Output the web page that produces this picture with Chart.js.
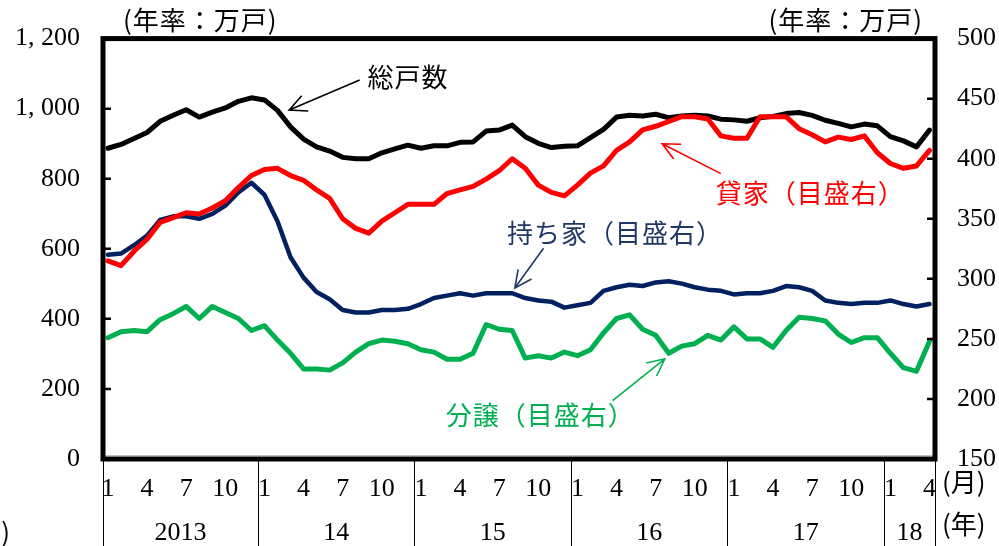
<!DOCTYPE html>
<html>
<head>
<meta charset="utf-8">
<script src="https://cdn.jsdelivr.net/npm/chart.js@4"></script>
<style>
  html, body { margin: 0; padding: 0; background: #fff; }
  #chart { display: block; }
</style>
</head>
<body>
<canvas id="chart" width="999" height="546"></canvas>
<script>
// 新設住宅着工戸数（季調済年率、万戸） 2013/1 - 2018/4
const years = ['2013', '14', '15', '16', '17', '18'];
const monthTicks = [1, 4, 7, 10];

// 総戸数（目盛左）
const total = [
  887, 898, 915, 932, 964, 981, 997, 976, 990, 1002, 1021, 1031,
  1025, 995, 948, 913, 891, 879, 861, 857, 857, 874, 885, 896,
  887, 894, 894, 904, 905, 936, 939, 953, 920, 901, 889, 893,
  894, 917, 941, 976, 981, 979, 984, 974, 979, 981, 979, 970,
  968, 964, 974, 978, 986, 989, 981, 967, 958, 948, 956, 951,
  920, 908, 891, 939
];
// 貸家（目盛右）
const rental = [
  315, 311, 323, 333, 347, 351, 355, 354, 359, 365, 376, 386,
  391, 392, 386, 382, 374, 367, 350, 342, 338, 348, 355, 362,
  362, 362, 371, 374, 377, 383, 390, 400, 392, 378, 372, 369,
  378, 388, 394, 407, 414, 424, 427, 431, 435, 435, 433, 419,
  417, 417, 435, 435, 435, 425, 420, 414, 418, 416, 419, 405,
  396, 392, 394, 407
];
// 持ち家（目盛右）
const owner = [
  320, 321, 328, 336, 349, 352, 352, 350, 354, 361, 372, 380,
  370, 348, 318, 301, 289, 283, 274, 272, 272, 274, 274, 275,
  279, 284, 286, 288, 286, 288, 288, 288, 284, 282, 281, 276,
  278, 280, 290, 293, 295, 294, 297, 298, 296, 293, 291, 290,
  287, 288, 288, 290, 294, 293, 290, 282, 280, 279, 280, 280,
  282, 279, 277, 279
];
// 分譲（目盛右）
const forSale = [
  251, 256, 257, 256, 266, 271, 277, 267, 277, 272, 267, 257,
  261, 249, 238, 225, 225, 224, 230, 239, 246, 249, 248, 246,
  241, 239, 233, 233, 238, 262, 258, 257, 234, 236, 234, 239,
  236, 241, 255, 267, 270, 258, 253, 238, 244, 246, 253, 249,
  260, 250, 250, 243, 257, 268, 267, 265, 254, 247, 251, 251,
  238, 226, 223, 248
];

const nPoints = total.length;
const toXY = (arr) => arr.map((v, i) => ({ x: i, y: v }));

const serif = '"Liberation Serif", "DejaVu Serif", serif';
const jp = '"Noto Sans CJK JP", "Noto Sans", sans-serif';

// 注記（x はデータ番号、y は各軸の値）
const notes = [
  { text: '総戸数', color: '#000000', axis: 'y', pos: [19.9, 1090], from: [19.3, 1082], to: [13.9, 996] },
  { text: '貸家（目盛右）', color: '#FF0000', axis: 'y1', pos: [46.6, 371], from: [47.0, 387.6], to: [42.5, 412.4] },
  { text: '持ち家（目盛右）', color: '#203864', axis: 'y1', pos: [30.6, 337.8], from: [33.4, 325.4], to: [31.2, 292.3] },
  { text: '分譲（目盛右）', color: '#00B050', axis: 'y1', pos: [25.9, 186.2], from: [38.7, 198.6], to: [42.7, 233.4] }
];

function arrow(ctx, x1, y1, x2, y2, color) {
  const ang = Math.atan2(y2 - y1, x2 - x1);
  const len = 19, spread = 0.45;
  ctx.save();
  ctx.strokeStyle = color;
  ctx.lineWidth = 1.6;
  ctx.beginPath();
  ctx.moveTo(x1, y1);
  ctx.lineTo(x2, y2);
  ctx.moveTo(x2 - len * Math.cos(ang - spread), y2 - len * Math.sin(ang - spread));
  ctx.lineTo(x2, y2);
  ctx.lineTo(x2 - len * Math.cos(ang + spread), y2 - len * Math.sin(ang + spread));
  ctx.stroke();
  ctx.restore();
}

const decorations = {
  id: 'decorations',
  afterDraw(chart) {
    const { ctx, chartArea: a, scales } = chart;
    const xs = scales.x;
    ctx.save();

    // plot area faint edge
    ctx.strokeStyle = '#BFBFBF';
    ctx.lineWidth = 1;
    ctx.beginPath();
    ctx.moveTo(a.left, a.bottom - 3.5);
    ctx.lineTo(a.right, a.bottom - 3.5);
    ctx.stroke();

    // thick frame
    ctx.strokeStyle = '#000';
    ctx.lineWidth = 5;
    ctx.strokeRect(a.left, a.top, a.right - a.left, a.bottom - a.top);

    // inward tick marks
    ctx.lineWidth = 2.5;
    ctx.beginPath();
    scales.y.ticks.forEach(t => {
      const y = scales.y.getPixelForValue(t.value);
      ctx.moveTo(a.left, y); ctx.lineTo(a.left + 8, y);
    });
    scales.y1.ticks.forEach(t => {
      const y = scales.y1.getPixelForValue(t.value);
      ctx.moveTo(a.right, y); ctx.lineTo(a.right - 8, y);
    });
    ctx.stroke();

    // year separators and labels
    const bounds = [a.left];
    for (let k = 1; k < years.length; k++) bounds.push(xs.getPixelForValue(12 * k - 0.5));
    bounds.push(a.right);
    ctx.lineWidth = 1;
    ctx.beginPath();
    bounds.forEach(x => {
      const xx = Math.round(x) + 0.5;
      ctx.moveTo(xx, a.bottom + 2);
      ctx.lineTo(xx, chart.height);
    });
    ctx.stroke();

    ctx.fillStyle = '#000';
    ctx.font = '26px ' + serif;
    ctx.textAlign = 'center';
    ctx.textBaseline = 'middle';
    years.forEach((yr, k) => {
      ctx.fillText(yr, (bounds[k] + bounds[k + 1]) / 2, 533);
    });

    // unit labels
    ctx.font = '26px ' + jp;
    ctx.letterSpacing = '1px';
    ctx.textAlign = 'left';
    ctx.fillText('(年率：万戸)', a.left + 20, 20);
    ctx.textAlign = 'right';
    ctx.fillText('(年率：万戸)', a.right - 12, 20);
    ctx.letterSpacing = '0px';
    ctx.textAlign = 'left';
    ctx.fillText('(月)', 942, 482);
    ctx.fillText('(年)', 942, 524);
    ctx.textAlign = 'right';
    ctx.fillText(')', 10, 532);

    // annotations
    ctx.letterSpacing = '1px';
    notes.forEach(n => {
      const ys = scales[n.axis];
      ctx.fillStyle = n.color;
      ctx.textAlign = 'left';
      ctx.fillText(n.text, xs.getPixelForValue(n.pos[0]), ys.getPixelForValue(n.pos[1]));
      arrow(ctx,
        xs.getPixelForValue(n.from[0]), ys.getPixelForValue(n.from[1]),
        xs.getPixelForValue(n.to[0]), ys.getPixelForValue(n.to[1]), n.color);
    });

    ctx.restore();
  }
};

const lineStyle = { tension: 0, pointRadius: 0, borderJoinStyle: 'round', borderCapStyle: 'round', fill: false };

new Chart(document.getElementById('chart').getContext('2d'), {
  type: 'line',
  data: {
    datasets: [
      { label: '貸家', data: toXY(rental), yAxisID: 'y1', borderColor: '#FF0000', borderWidth: 5, order: 0, ...lineStyle },
      { label: '総戸数', data: toXY(total), yAxisID: 'y', borderColor: '#000000', borderWidth: 5, order: 1, ...lineStyle },
      { label: '持ち家', data: toXY(owner), yAxisID: 'y1', borderColor: '#002060', borderWidth: 4.5, order: 2, ...lineStyle },
      { label: '分譲', data: toXY(forSale), yAxisID: 'y1', borderColor: '#00B050', borderWidth: 5, order: 3, ...lineStyle }
    ]
  },
  options: {
    responsive: false,
    devicePixelRatio: 1,
    animation: false,
    layout: { padding: { top: 36, left: 0, right: 0, bottom: 0 } },
    plugins: { legend: { display: false }, tooltip: { enabled: false } },
    scales: {
      x: {
        type: 'linear',
        min: -0.38,
        max: nPoints - 1 + 0.42,
        grid: { display: false, drawTicks: false },
        border: { display: false },
        afterBuildTicks: (s) => {
          const t = [];
          for (let i = 0; i < nPoints; i++) {
            if (monthTicks.includes(i % 12 + 1)) t.push({ value: i });
          }
          s.ticks = t;
        },
        afterFit: (s) => { s.height = 87; },
        ticks: {
          autoSkip: false,
          maxRotation: 0,
          padding: 15,
          color: '#000',
          font: { family: serif, size: 26 },
          callback: (v) => String(Math.round(v) % 12 + 1)
        }
      },
      y: {
        position: 'left',
        min: 0,
        max: 1200,
        grid: { display: false, drawTicks: false },
        border: { display: false },
        afterFit: (s) => { s.width = 103; },
        ticks: {
          stepSize: 200,
          padding: 23,
          color: '#000',
          font: { family: serif, size: 26 },
          callback: (v) => v >= 1000 ? Math.floor(v / 1000) + ', ' + String(v % 1000).padStart(3, '0') : String(v)
        }
      },
      y1: {
        position: 'right',
        min: 150,
        max: 500,
        grid: { display: false, drawTicks: false },
        border: { display: false },
        afterFit: (s) => { s.width = 64; },
        ticks: {
          stepSize: 50,
          padding: 22,
          color: '#000',
          font: { family: serif, size: 26 }
        }
      }
    }
  },
  plugins: [decorations]
});
</script>
</body>
</html>
